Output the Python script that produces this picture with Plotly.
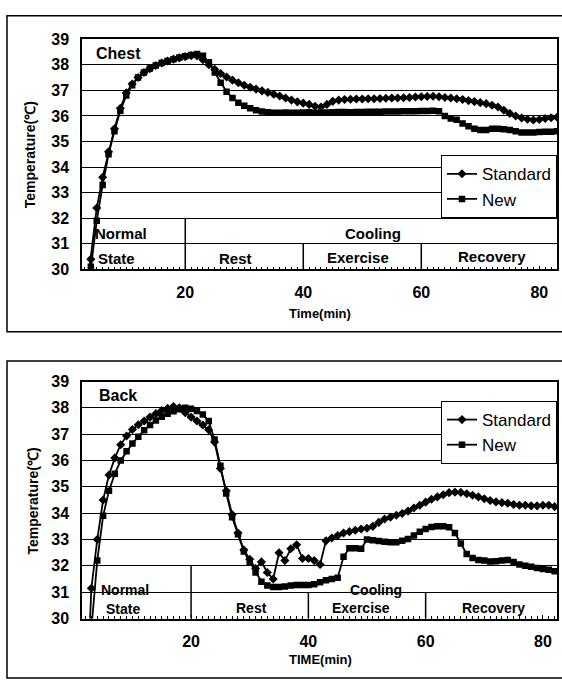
import plotly.graph_objects as go

# ---------------- data ----------------
chest_time = list(range(3, 84))
chest_standard = [
    28.6, 30.4, 32.4, 33.6, 34.6, 35.5, 36.3, 36.9, 37.25, 37.5,        # 3-12
    37.7, 37.85, 37.97, 38.07, 38.15, 38.22, 38.27, 38.32, 38.36, 38.35,  # 13-22
    38.2, 38.0, 37.82, 37.66, 37.52, 37.4, 37.3, 37.2, 37.12, 37.05,     # 23-32
    36.98, 36.92, 36.85, 36.78, 36.7, 36.62, 36.55, 36.5, 36.45, 36.38,  # 33-42
    36.35, 36.45, 36.57, 36.62, 36.64, 36.65, 36.66, 36.66, 36.67, 36.67,  # 43-52
    36.68, 36.69, 36.7, 36.7, 36.71, 36.72, 36.74, 36.75, 36.76, 36.77,  # 53-62
    36.75, 36.72, 36.7, 36.67, 36.64, 36.6, 36.56, 36.52, 36.48, 36.42,  # 63-72
    36.35, 36.22, 36.1, 36.0, 35.92, 35.87, 35.84, 35.86, 35.9, 35.93,   # 73-82
    35.95,                                                               # 83
]
chest_new = [
    28.2, 30.1, 31.9, 33.3, 34.5, 35.4, 36.2, 36.8, 37.2, 37.5,          # 3-12
    37.7, 37.85, 37.97, 38.07, 38.15, 38.22, 38.28, 38.33, 38.38, 38.42, # 13-22
    38.35, 38.1, 37.7, 37.3, 36.95, 36.7, 36.52, 36.4, 36.3, 36.22,      # 23-32
    36.17, 36.14, 36.12, 36.12, 36.13, 36.12, 36.12, 36.13, 36.14, 36.12, # 33-42
    36.12, 36.13, 36.14, 36.15, 36.15, 36.14, 36.15, 36.15, 36.16, 36.16, # 43-52
    36.16, 36.17, 36.17, 36.17, 36.18, 36.18, 36.18, 36.19, 36.19, 36.2,  # 53-62
    36.18, 36.0, 35.9, 35.85, 35.7, 35.6, 35.5, 35.45, 35.45, 35.5,      # 63-72
    35.5, 35.48, 35.45, 35.4, 35.35, 35.35, 35.35, 35.37, 35.38, 35.38,  # 73-82
    35.4,                                                                # 83
]

back_time = list(range(2, 83))
back_standard = [
    26.0, 31.15, 33.0, 34.5, 35.45, 36.1, 36.6, 36.93, 37.18, 37.36,     # 2-11
    37.5, 37.65, 37.78, 37.9, 37.98, 38.05, 38.0, 37.82, 37.65, 37.5,    # 12-21
    37.35, 37.17, 36.7, 35.7, 34.85, 33.95, 33.25, 32.6, 32.25, 31.9,    # 22-31
    32.15, 31.75, 31.5, 32.5, 32.2, 32.65, 32.8, 32.28, 32.28, 32.2,     # 32-41
    32.05, 32.95, 33.06, 33.15, 33.25, 33.3, 33.35, 33.4, 33.43, 33.5,   # 42-51
    33.65, 33.78, 33.85, 33.92, 33.99, 34.08, 34.2, 34.3, 34.42, 34.53,  # 52-61
    34.62, 34.7, 34.78, 34.8, 34.79, 34.74, 34.68, 34.62, 34.55, 34.48,  # 62-71
    34.43, 34.4, 34.38, 34.33, 34.3, 34.3, 34.28, 34.28, 34.3, 34.3,     # 72-81
    34.25,                                                               # 82
]
back_new = [
    25.0, 29.6, 32.2, 33.9, 34.85, 35.5, 36.0, 36.35, 36.65, 36.9,       # 2-11
    37.15, 37.35, 37.52, 37.66, 37.78, 37.87, 37.95, 38.0, 37.97, 37.88, # 12-21
    37.75, 37.5, 36.8, 35.8, 34.75, 33.85, 33.2, 32.55, 32.15, 31.75,    # 22-31
    31.4, 31.25, 31.2, 31.2, 31.22, 31.25, 31.27, 31.27, 31.27, 31.3,    # 32-41
    31.38, 31.45, 31.5, 31.55, 32.35, 32.67, 32.67, 32.65, 33.0, 32.97,  # 42-51
    32.94, 32.92, 32.9, 32.9, 32.95, 33.02, 33.15, 33.3, 33.4, 33.48,    # 52-61
    33.5, 33.5, 33.47, 33.25, 32.85, 32.45, 32.3, 32.22, 32.2, 32.17,    # 62-71
    32.18, 32.2, 32.22, 32.15, 32.05, 32.0, 31.97, 31.92, 31.88, 31.85,  # 72-81
    31.8,                                                                # 82
]

y_ticks = [30, 31, 32, 33, 34, 35, 36, 37, 38, 39]
x_ticks = [20, 40, 60, 80]
phase_bounds = [20, 40, 60]
series_names = ["Standard", "New"]

# ---------------- figure ----------------
W, H = 562, 688
FONT = "Liberation Sans, Arial, sans-serif"


def px_x(p):
    return p / W


def px_y(p):
    return 1 - p / H


fig = go.Figure()

line_style = dict(color="black", width=1.8)
for xs, ys, sym, name, xa, ya, lg in [
    (chest_time, chest_standard, "diamond", series_names[0], "x", "y", "legend"),
    (chest_time, chest_new, "square", series_names[1], "x", "y", "legend"),
    (back_time, back_standard, "diamond", series_names[0], "x2", "y2", "legend2"),
    (back_time, back_new, "square", series_names[1], "x2", "y2", "legend2"),
]:
    fig.add_trace(go.Scatter(
        x=xs, y=ys, mode="lines+markers", name=name,
        line=line_style,
        marker=dict(symbol=sym, size=7 if sym == "diamond" else 6.5, color="black"),
        xaxis=xa, yaxis=ya, legend=lg, cliponaxis=True,
    ))

xdom = [px_x(82), px_x(557)]
axis_common = dict(
    showline=True, linecolor="black", linewidth=1.5, mirror=True,
    zeroline=False,
)
yaxis_common = dict(
    axis_common, range=[30, 39], tickvals=y_ticks, showgrid=True,
    gridcolor="black", gridwidth=1, ticks="",
    tickfont=dict(family=FONT, size=16, color="black", weight="bold"),
    ticklabelstandoff=8,
)
xaxis_common = dict(
    axis_common, tickvals=x_ticks, showgrid=False, ticks="inside", ticklen=4,
    tickcolor="black",
    minor=dict(dtick=1, tick0=0, ticks="inside", ticklen=3, tickcolor="black", showgrid=False),
    tickfont=dict(family=FONT, size=16, color="black", weight="bold"),
    ticklabelstandoff=8,
)

fig.update_layout(
    width=W, height=H,
    margin=dict(l=0, r=0, t=0, b=0),
    paper_bgcolor="white", plot_bgcolor="white",
    showlegend=True,
    xaxis=dict(xaxis_common, domain=xdom, range=[2.5, 83], anchor="y"),
    yaxis=dict(yaxis_common, domain=[px_y(268), px_y(32)], anchor="x"),
    xaxis2=dict(xaxis_common, domain=xdom, range=[1.4, 82.4], anchor="y2"),
    yaxis2=dict(yaxis_common, domain=[px_y(626), px_y(383)], anchor="x2"),
    legend=dict(
        x=px_x(557), xanchor="right", y=px_y(151), yanchor="top",
        bgcolor="white", bordercolor="black", borderwidth=1,
        font=dict(family=FONT, size=17, color="black"),
        tracegroupgap=0, itemwidth=30,
    ),
    legend2=dict(
        x=px_x(557), xanchor="right", y=px_y(403), yanchor="top",
        bgcolor="white", bordercolor="black", borderwidth=1,
        font=dict(family=FONT, size=17, color="black"),
        tracegroupgap=0, itemwidth=30,
    ),
)

# outer frames
for top, bottom in [(8, 332), (362, 687)]:
    fig.add_shape(type="rect", xref="paper", yref="paper",
                  x0=px_x(7), x1=px_x(575), y0=px_y(bottom), y1=px_y(top),
                  line=dict(color="black", width=1.5), layer="below")

# phase dividers
for xr, yr in [("x", "y"), ("x2", "y2")]:
    for b in phase_bounds:
        fig.add_shape(type="line", xref=xr, yref=yr, x0=b, x1=b, y0=30,
                      y1=32 if b == 20 else 31,
                      line=dict(color="black", width=1.5))


def label(text, x, y, xr, yr, size, anchor="center"):
    fig.add_annotation(text=f"<b>{text}</b>", x=x, y=y, xref=xr, yref=yr,
                       showarrow=False, xanchor=anchor, yanchor="middle",
                       font=dict(family=FONT, size=size, color="black"))


# top chart labels
label("Chest", 4.6, 38.45, "x", "y", 16, "left")
label("Normal", 4.4, 31.4, "x", "y", 15, "left")
label("State", 4.9, 30.42, "x", "y", 15, "left")
label("Rest", 28.5, 30.42, "x", "y", 15)
label("Cooling", 51.8, 31.4, "x", "y", 15)
label("Exercise", 49.3, 30.46, "x", "y", 15)
label("Recovery", 72.0, 30.5, "x", "y", 15)

# bottom chart labels
label("Back", 3.9, 38.48, "x2", "y2", 16, "left")
label("Normal", 4.3, 31.07, "x2", "y2", 14, "left")
label("State", 5.1, 30.35, "x2", "y2", 14, "left")
label("Rest", 30.3, 30.4, "x2", "y2", 14)
label("Cooling", 51.6, 31.07, "x2", "y2", 14)
label("Exercise", 49.0, 30.4, "x2", "y2", 14)
label("Recovery", 71.5, 30.4, "x2", "y2", 14)

# axis titles
for txt, yc in [("Time(min)", 313), ("TIME(min)", 668)]:
    fig.add_annotation(text=f"<b>{txt}</b>", x=px_x(320), y=px_y(yc),
                       xref="paper", yref="paper", showarrow=False,
                       xanchor="center", yanchor="middle",
                       font=dict(family=FONT, size=13, color="black"))
for xc, yc in [(30, 151), (33, 506)]:
    fig.add_annotation(text="<b>Temperature(℃)</b>", x=px_x(xc), y=px_y(yc),
                       xref="paper", yref="paper", showarrow=False,
                       textangle=-90, xanchor="center", yanchor="middle",
                       font=dict(family=FONT, size=14, color="black"))

fig.write_html(
    "out.html",
    config={"displayModeBar": False},
    post_script=(
        "document.documentElement.style.margin='0';"
        "document.documentElement.style.overflow='hidden';"
        "document.body.style.margin='0';"
        "document.body.style.padding='0';"
        "document.body.style.overflow='hidden';"
    ),
)
